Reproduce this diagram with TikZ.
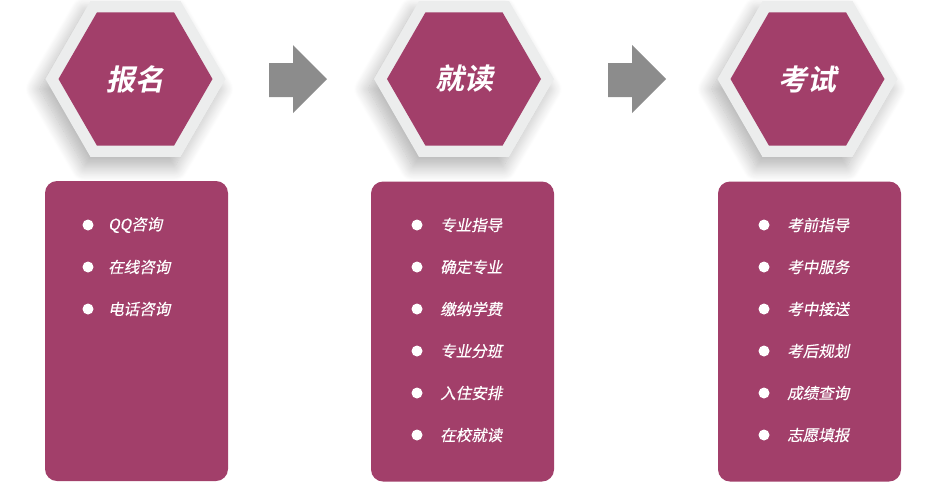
\documentclass[tikz,border=0pt]{standalone}
\usepackage{fontspec}
\setmainfont{Noto Sans CJK SC}
\newfontfamily\hexfont[FakeSlant=0.2]{Noto Sans CJK SC Bold}
\newfontfamily\itemfont[FakeSlant=0.2,FakeBold=0.4]{Noto Sans CJK SC}
\usetikzlibrary{shapes.geometric,shadows.blur}
\definecolor{plum}{HTML}{A23F6A}
\definecolor{hexrim}{HTML}{ECEDED}
\definecolor{arrowgray}{HTML}{8C8C8C}
\tikzset{
  rim/.style={regular polygon,regular polygon sides=6,minimum size=180pt,inner sep=0pt,
    fill=hexrim,blur shadow={shadow xshift=-6pt,shadow yshift=-10pt,shadow blur radius=14pt,
    shadow blur steps=20,shadow opacity=30}},
  core/.style={regular polygon,regular polygon sides=6,minimum size=154pt,inner sep=0pt,
    fill=plum,text=white,font=\hexfont\fontsize{29}{29}\selectfont},
  card/.style={rounded corners=12pt,fill=plum,minimum width=183pt,minimum height=300pt,inner sep=0pt},
  itemdot/.style={circle,fill=white,minimum size=11pt,inner sep=0pt},
  item/.style={text=white,font=\itemfont\fontsize{15.5}{15.5}\selectfont,anchor=west,inner sep=0pt},
}
\begin{document}
\begin{tikzpicture}[x=1pt,y=-1pt]
\useasboundingbox (0,0) rectangle (943,483);
% hexagons
\node[rim] (rim1) at (135.5,79) {};
\node[rim] (rim2) at (464,79) {};
\node[rim] (rim3) at (807.5,79) {};
\node[core] (signup) at (rim1) {报名};
\node[core] (study) at (rim2) {就读};
\node[core] (exam) at (rim3) {考试};
% arrows
\foreach \x in {269,608}
  \fill[arrowgray] (\x,63) -- (\x+24,63) -- (\x+24,45) -- (\x+58,79) -- (\x+24,113) -- (\x+24,97) -- (\x,97) -- cycle;
% cards
\node[card] (card1) at (136.5,331) {};
\node[card] (card2) at (462.5,331.5) {};
\node[card] (card3) at (809.5,331.5) {};
\foreach \t [count=\i] in {QQ咨询,在线咨询,电话咨询} {
  \node[itemdot] (dota\i) at (88,183+42*\i) {};
  \node[item] (itema\i) at (108,183+42*\i) {\t};
}
\foreach \t [count=\i] in {专业指导,确定专业,缴纳学费,专业分班,入住安排,在校就读} {
  \node[itemdot] (dotb\i) at (417,183+42*\i) {};
  \node[item] (itemb\i) at (440,183+42*\i) {\t};
}
\foreach \t [count=\i] in {考前指导,考中服务,考中接送,考后规划,成绩查询,志愿填报} {
  \node[itemdot] (dotc\i) at (764,183+42*\i) {};
  \node[item] (itemc\i) at (787,183+42*\i) {\t};
}
\end{tikzpicture}
\end{document}
